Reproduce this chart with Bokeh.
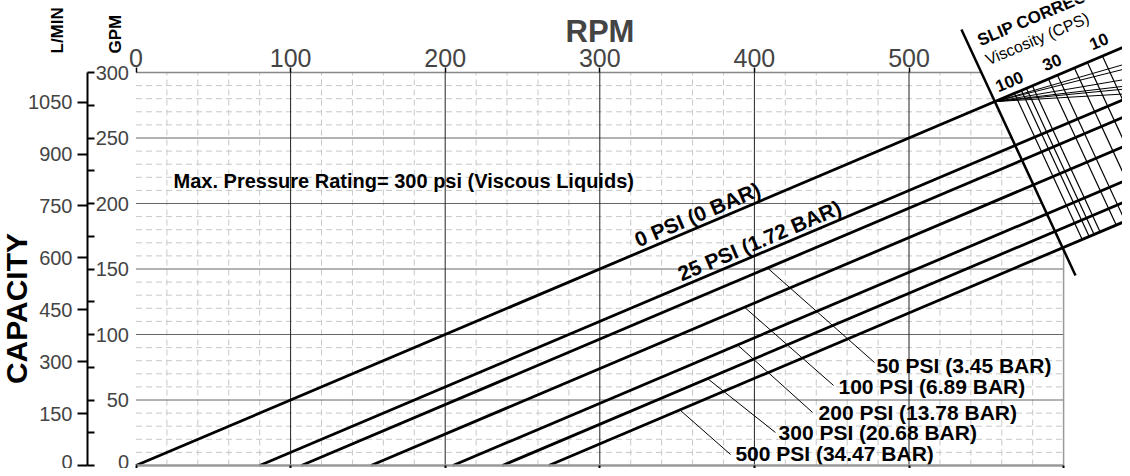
import numpy as np
from math import atan, pi, sin, cos
from bokeh.plotting import figure
from bokeh.models import Range1d, LinearAxis, FixedTicker
from bokeh.core.properties import value
from bokeh.embed import file_html
from bokeh.resources import INLINE

# ---------------- data ----------------
rpm_ticks = [0, 100, 200, 300, 400, 500]
bottom_rpm_ticks = [0, 100, 200, 300, 400, 500, 600]
gpm_ticks = [0, 50, 100, 150, 200, 250, 300]
gpm_minor_ticks = list(range(0, 301, 25))
lpm_ticks = [0, 150, 300, 450, 600, 750, 900, 1050]
LPM_PER_GPM = 3.78541

pressure_psi = [0, 25, 50, 100, 200, 300, 500]
pressure_bar = [0, 1.72, 3.45, 6.89, 13.78, 20.68, 34.47]
slip_rpm = [0, 80, 107, 152, 205, 237, 267]
GPM_PER_REV = 0.5

inline_label_rpm = [325, 353]          # labels for 0 and 25 psi written along the line
INLINE_GAP_GPM = 4

callout_text_rpm = [478.9, 454.4, 441.5, 415.6, 387.7]   # 50..500 psi (baseline-left)
callout_text_gpm = [71.0, 55.0, 35.1, 19.8, 3.8]
leader_from_rpm = [408.5, 393.6, 389.1, 369.7, 351.8]
leader_to_rpm = [477.7, 451.2, 437.6, 413.6, 384.6]
leader_to_gpm = [78.6, 61.1, 40.5, 25.2, 8.4]

boundary_rpm = [533.9, 607.7]
boundary_gpm = [332.8, 145.0]
viscosity_line_rpm = [568.2, 572.7, 575.9, 579.8, 590.2, 596.0, 607.0, 615.4, 625.1, 638.0]
viscosity_labels = ["100", "30", "10"]
viscosity_label_rpm = [557.9, 588.3, 618.7]
viscosity_label_gpm = [284.7, 300.8, 316.8]
fan_end_rpm = 643.3
fan_end_gpm = [307.6, 303.8, 295.4, 290.1, 287.8, 283.9]

# ---------------- layout ----------------
W, H = 1122, 468
PX_RPM, PX_GPM = 1.546, 1.31          # pixels per unit
X0_PIX, Y0_PIX = 135.5, 465.0         # pixel position of the origin
X_START, X_END = -X0_PIX / PX_RPM, (W - X0_PIX) / PX_RPM
Y_START, Y_END = -(H - Y0_PIX) / PX_GPM, Y0_PIX / PX_GPM
LPM_AXIS_X = (87 - X0_PIX) / PX_RPM
FONT = "Liberation Sans"
ANG = atan(GPM_PER_REV * PX_GPM / PX_RPM)


def mid_anchor(x, y, fs, ang=0.0):
    """Convert a baseline-left position to the anchor used with text_baseline='middle'."""
    d = 0.35 * fs
    return (np.asarray(x, float) - sin(ang) * d / PX_RPM,
            np.asarray(y, float) + cos(ang) * d / PX_GPM)


m_b = (boundary_gpm[1] - boundary_gpm[0]) / (boundary_rpm[1] - boundary_rpm[0])


def b_x(g):
    return boundary_rpm[0] + (np.asarray(g, float) - boundary_gpm[0]) / m_b


def b_y(r):
    return boundary_gpm[0] + m_b * (np.asarray(r, float) - boundary_rpm[0])


p = figure(width=W, height=H, x_range=Range1d(X_START, X_END), y_range=Range1d(Y_START, Y_END),
           x_axis_type=None, y_axis_type=None, toolbar_location=None,
           output_backend="svg", min_border=0)
p.outline_line_color = None
p.background_fill_color = "white"
p.border_fill_color = "white"
p.extra_y_ranges = {"lmin": Range1d(Y_START * LPM_PER_GPM, Y_END * LPM_PER_GPM)}

# ---------------- grid (stops at slip-correction boundary) ----------------
minor_x = np.array([r for r in range(20, 600, 20) if r % 100])
minor_y = np.array([g for g in range(10, 300, 10) if g % 50])
p.segment(x0=minor_x, y0=0, x1=minor_x, y1=np.minimum(300, b_y(minor_x)),
          line_color="#c8c8c8", line_width=1, line_dash="6 4")
p.segment(x0=0, y0=minor_y, x1=np.minimum(600, b_x(minor_y)), y1=minor_y,
          line_color="#c8c8c8", line_width=1, line_dash="6 4")

major_y = np.array(gpm_ticks[1:-1])
p.segment(x0=0, y0=major_y, x1=np.minimum(600, b_x(major_y)), y1=major_y,
          line_color="#666666", line_width=1)
p.segment(x0=[0], y0=[300], x1=[float(np.minimum(600, b_x(300)))], y1=[300],
          line_color="#888888", line_width=1.5)
major_x = np.array(rpm_ticks[1:])
p.segment(x0=major_x, y0=0, x1=major_x, y1=np.minimum(300, b_y(major_x)),
          line_color="#222222", line_width=1)
p.segment(x0=[600], y0=[0], x1=[600], y1=[float(np.minimum(300, b_y(600)))],
          line_color="#999999", line_width=1.5)

# ---------------- slip correction section ----------------
fan_x0 = (boundary_gpm[0] - m_b * boundary_rpm[0]) / (GPM_PER_REV - m_b)
fan_y0 = GPM_PER_REV * fan_x0
p.segment(x0=fan_x0, y0=fan_y0, x1=fan_end_rpm, y1=fan_end_gpm, line_color="black",
          line_width=1)

vr = np.array(viscosity_line_rpm)
s_last = slip_rpm[-1]
v_x1 = (m_b * vr - GPM_PER_REV * vr - GPM_PER_REV * s_last) / (m_b - GPM_PER_REV)
v_y1 = GPM_PER_REV * (v_x1 - s_last)
p.segment(x0=vr, y0=GPM_PER_REV * vr, x1=v_x1, y1=v_y1, line_color="black", line_width=1.2)

p.line(boundary_rpm, boundary_gpm, line_color="black", line_width=2.5)

# ---------------- pressure lines ----------------
sl = np.array(slip_rpm, float)
x_far = X_END + 40
p.segment(x0=sl, y0=0, x1=x_far, y1=GPM_PER_REV * (x_far - sl), line_color="black",
          line_width=2.8)

lf = np.array(leader_from_rpm)
p.segment(x0=lf, y0=GPM_PER_REV * (lf - sl[2:]), x1=leader_to_rpm, y1=leader_to_gpm,
          line_color="black", line_width=1)

labels = [f"{psi} PSI ({bar:g} BAR)" for psi, bar in zip(pressure_psi, pressure_bar)]

common = dict(text_font=value(FONT), text_align="left", text_baseline="middle",
              text_color="black")

ir = np.array(inline_label_rpm, float)
ax, ay = mid_anchor(ir, GPM_PER_REV * (ir - sl[:2]) + INLINE_GAP_GPM, 21, ANG)
p.text(x=ax, y=ay, text=labels[:2], angle=ANG, text_font_size="21px",
       text_font_style="bold", **common)

ax, ay = mid_anchor(callout_text_rpm, callout_text_gpm, 21)
p.text(x=ax, y=ay, text=labels[2:], text_font_size="21px", text_font_style="bold", **common)

ax, ay = mid_anchor([24.3], [211.5], 20)
p.text(x=ax, y=ay, text=["Max. Pressure Rating= 300 psi (Viscous Liquids)"],
       text_font_size="20px", text_font_style="bold", **common)

ax, ay = mid_anchor([546.3], [319.8], 17, ANG)
p.text(x=ax, y=ay, text=["SLIP CORRECTION"], angle=ANG, text_font_size="17px",
       text_font_style="bold", **common)
ax, ay = mid_anchor([551.4], [305.3], 16, ANG)
p.text(x=ax, y=ay, text=["Viscosity (CPS)"], angle=ANG, text_font_size="16px", **common)
ax, ay = mid_anchor(viscosity_label_rpm, viscosity_label_gpm, 17, ANG)
p.text(x=ax, y=ay, text=viscosity_labels, angle=ANG, text_font_size="17px",
       text_font_style="bold", **common)

# side titles
p.text(x=[-50.5, -13.3], y=[314.5, 314.5], text=["L/MIN", "GPM"], angle=pi / 2,
       text_font_size="17px", text_font_style="bold", **common)
p.text(x=[-77.3], y=[119.8], text=["CAPACITY"], angle=pi / 2,
       text_font=value(FONT), text_font_size="30px", text_font_style="bold",
       text_align="center", text_baseline="middle", text_color="black")

# ---------------- axes (fixed inside the full-size frame) ----------------
top = LinearAxis(fixed_location=300, ticker=FixedTicker(ticks=rpm_ticks), bounds=(0, 600),
                 axis_label="RPM", axis_label_text_font=FONT, axis_label_text_font_size="31px",
                 axis_label_text_font_style="bold", axis_label_standoff=-3,
                 major_label_text_font=FONT, major_label_text_font_size="25px",
                 major_label_standoff=1, major_tick_out=5, major_tick_in=0,
                 major_tick_line_width=1.5, major_tick_line_color="black",
                 axis_line_color=None, minor_tick_line_color=None)
p.add_layout(top, "above")

bottom = LinearAxis(fixed_location=0, ticker=FixedTicker(ticks=bottom_rpm_ticks),
                    bounds=(0, 600), axis_line_color="#999999", axis_line_width=2.5,
                    major_tick_out=7, major_tick_in=0, major_tick_line_width=2,
                    major_label_text_font_size="1px", major_label_text_color=None,
                    major_label_standoff=0, minor_tick_line_color=None)
p.add_layout(bottom, "below")

gpm_axis = LinearAxis(fixed_location=0, ticker=FixedTicker(ticks=gpm_ticks),
                      axis_line_color=None, major_tick_line_color=None, major_tick_out=0,
                      major_tick_in=0, minor_tick_line_color=None, major_label_standoff=7,
                      major_label_text_font=FONT, major_label_text_font_size="20px")
p.add_layout(gpm_axis, "left")

lpm_axis = LinearAxis(fixed_location=LPM_AXIS_X, y_range_name="lmin",
                      ticker=FixedTicker(ticks=lpm_ticks,
                                         minor_ticks=[g * LPM_PER_GPM for g in gpm_minor_ticks]),
                      bounds=(0, 300 * LPM_PER_GPM + 0.5), axis_line_width=2,
                      axis_line_color="black", major_tick_out=10, major_tick_in=0,
                      major_tick_line_width=2, minor_tick_in=7, minor_tick_out=0,
                      minor_tick_line_width=2, major_label_standoff=5,
                      major_label_text_font=FONT, major_label_text_font_size="20px")
p.add_layout(lpm_axis, "left")

open("out.html", "w").write(file_html(p, INLINE))
